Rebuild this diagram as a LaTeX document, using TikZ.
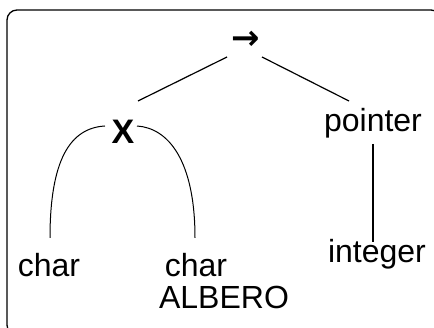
\documentclass[tikz,border=0pt]{standalone}
\usepackage{fontspec}
\setmainfont{Liberation Sans}
\newfontfamily\arrowfont{DejaVu Sans}
\begin{document}
\begin{tikzpicture}[x=1pt,y=-1pt,
  lbl/.style={inner sep=0pt,font=\fontsize{32}{38}\selectfont},
  opsym/.style={inner sep=0pt,font=\fontsize{34}{40}\arrowfont\bfseries},
  prodsym/.style={inner sep=0pt,font=\fontsize{34}{40}\selectfont\bfseries},
  edge/.style={line width=1.2pt},
  arc/.style={line width=1pt},
  frame/.style={line width=1.3pt,rounded corners=10pt}]
\useasboundingbox (0,0) rectangle (434,328);
\clip (0,0) rectangle (434,328);
\draw[frame] (7,10) rectangle (441,335);

% type tree
\node[opsym] (arr) at (246,40) {→};
\node[prodsym] (X) at (123,132) {X};
\node[lbl,anchor=base] (ptr) at (373,132) {pointer};
\node[lbl,anchor=base] (c1) at (49,277) {char};
\node[lbl,anchor=base] (c2) at (196,277) {char};
\node[lbl,anchor=base] (int) at (377,263) {integer};
\node[lbl,anchor=base] (name) at (224,309) {ALBERO};

% connectors
\draw[edge] ([shift={(-19,17)}]arr.center) -- ([shift={(15,-31)}]X.center);
\draw[edge] ([shift={(16,17)}]arr.center) -- ([shift={(-24,-31)}]ptr.base);
\draw[edge] ([shift={(0,12)}]ptr.base) -- ([shift={(-4,-21)}]int.base);
\draw[arc] ([shift={(-18,-6)}]X.center) .. controls (70,128) and (50,160) .. ([shift={(1,-39)}]c1.base);
\draw[arc] ([shift={(14,-6)}]X.center) .. controls (168,128) and (195,160) .. ([shift={(-1,-39)}]c2.base);
\end{tikzpicture}
\end{document}
